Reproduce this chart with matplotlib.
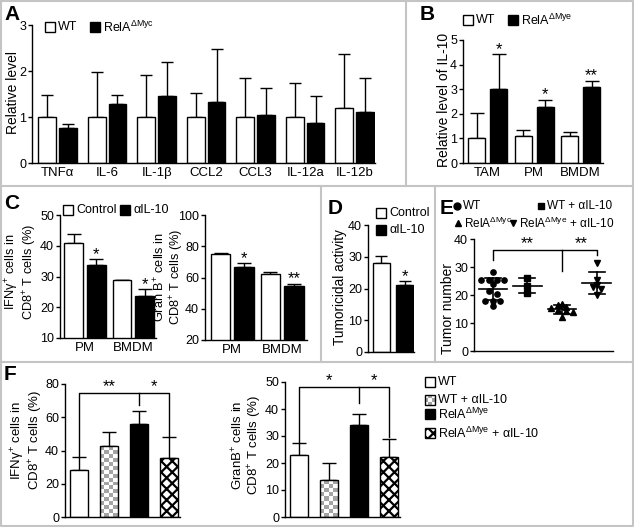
import numpy as np
import matplotlib
matplotlib.use('Agg')
import matplotlib.pyplot as plt
from matplotlib.lines import Line2D
from matplotlib.patches import Rectangle
from matplotlib.colors import ListedColormap

plt.rcParams.update({
    'font.family': 'Liberation Sans',
    'font.size': 9,
    'mathtext.fontset': 'custom',
    'mathtext.rm': 'Liberation Sans',
    'mathtext.it': 'Liberation Sans:italic',
    'mathtext.bf': 'Liberation Sans:bold',
    'hatch.linewidth': 1.6,
    'axes.linewidth': 1.0,
})

# ---- data ----
A_genes = ['TNFα', 'IL-6', 'IL-1β', 'CCL2', 'CCL3', 'IL-12a', 'IL-12b']
A_wt = [1.0, 1.0, 1.0, 1.0, 1.0, 1.0, 1.2]
A_wt_err = [0.47, 0.97, 0.92, 0.52, 0.84, 0.75, 1.17]
A_ko = [0.77, 1.29, 1.45, 1.32, 1.04, 0.88, 1.11]
A_ko_err = [0.08, 0.18, 0.74, 1.16, 0.60, 0.57, 0.74]

B_cells = ['TAM', 'PM', 'BMDM']
B_wt = [1.01, 1.08, 1.10]
B_wt_err = [1.04, 0.27, 0.14]
B_ko = [3.0, 2.27, 3.08]
B_ko_err = [1.43, 0.30, 0.26]
B_stars = ['*', '*', '**']

C_cells = ['PM', 'BMDM']
C_ifn_ctrl = [40.8, 28.7]
C_ifn_ctrl_err = [3.0, 0.2]
C_ifn_anti = [33.7, 23.7]
C_ifn_anti_err = [1.9, 2.2]
C_ifn_stars = ['*', '*']
C_gran_ctrl = [74.8, 62.0]
C_gran_ctrl_err = [0.8, 1.4]
C_gran_anti = [66.5, 54.5]
C_gran_anti_err = [2.8, 1.6]
C_gran_stars = ['*', '**']

D_ctrl, D_ctrl_err = 27.9, 2.3
D_anti, D_anti_err = 21.0, 1.4

E_wt = [28.2, 25.5, 25.5, 25.3, 25.3, 23.8, 21.5, 20.3, 18.0, 18.0, 18.0, 15.9]
E_wt_anti = [26.0, 23.3, 20.8]
E_ko = [16.9, 16.4, 15.6, 15.2, 14.6, 14.4, 13.8, 12.0]
E_ko_anti = [31.4, 25.5, 23.4, 23.0, 22.2, 20.0]

F_groups = ['WT', 'WT + αIL-10', 'RelA$^{\\mathrm{ΔMye}}$', 'RelA$^{\\mathrm{ΔMye}}$ + αIL-10']
F_ifn = [28.2, 42.7, 55.7, 35.4]
F_ifn_err = [7.6, 8.4, 7.9, 12.7]
F_gran = [22.9, 13.7, 34.2, 22.2]
F_gran_err = [4.5, 6.4, 4.1, 6.8]

W, H = 634, 527
fig = plt.figure(figsize=(W / 100, H / 100), dpi=100)
fig.patch.set_facecolor('white')


def fx(x):
    return x / W


def fy(y):
    return 1 - y / H


def new_ax(x0, ytop, x1, ybot, xlim, ylim, yticks):
    ax = fig.add_axes([fx(x0), fy(ybot), (x1 - x0) / W, (ybot - ytop) / H])
    ax.spines['top'].set_visible(False)
    ax.spines['right'].set_visible(False)
    ax.set_xlim(*xlim)
    ax.set_ylim(*ylim)
    ax.set_yticks(yticks)
    ax.tick_params(axis='y', direction='out', length=3, width=1, pad=1.2, labelsize=9)
    ax.tick_params(axis='x', length=0, labelsize=9.5, pad=3)
    ax.set_xticks([])
    ax.patch.set_alpha(0)
    return ax


def bars(ax, xs, vals, errs, width, fc, cap, hatch=None):
    b = ax.bar(xs, vals, width, color=fc, edgecolor='black', linewidth=1,
               hatch=hatch, zorder=2)
    ax.errorbar(xs, vals, yerr=[np.zeros(len(vals)), errs], fmt='none',
                ecolor='black', elinewidth=1, capsize=cap, capthick=1, zorder=1)
    return b


def stars(ax, xs, tops, labels, fs=12):
    for x, t, s in zip(xs, tops, labels):
        ax.annotate(s, (x, t), xytext=(0, -2), textcoords='offset points',
                    ha='center', va='bottom', fontsize=fs)


def checker(ax, bar, cell=4.0):
    x0, w, h = bar.get_x(), bar.get_width(), bar.get_height()
    p0 = ax.transData.transform((x0, 0))
    p1 = ax.transData.transform((x0 + w, h))
    nc = max(1, int(round((p1[0] - p0[0]) / cell)))
    nr = max(1, int(round((p1[1] - p0[1]) / cell)))
    img = np.indices((nr, nc)).sum(axis=0) % 2
    xl, yl = ax.get_xlim(), ax.get_ylim()
    im = ax.imshow(img, extent=(x0, x0 + w, 0, h), origin='lower',
                   cmap=ListedColormap(['white', '#a4a4a4']), aspect='auto',
                   interpolation='nearest', zorder=2.5)
    im.set_clip_path(bar)
    bar.set_facecolor('none')
    bar.set_zorder(3)
    ax.set_xlim(xl)
    ax.set_ylim(yl)


def ylab(x, y, text, fs=9.5):
    fig.text(fx(x), fy(y), text, rotation=90, ha='center', va='center',
             fontsize=fs, linespacing=1.0)


def key(x, y, label, fc='white', hatch=None, size=10, fs=9, gap=3):
    fig.add_artist(Rectangle((fx(x), fy(y + size / 2)), size / W, size / H,
                             transform=fig.transFigure, facecolor=fc,
                             edgecolor='black', lw=1, hatch=hatch))
    fig.text(fx(x + size + gap), fy(y), label, ha='left', va='center', fontsize=fs)


def mkey(x, y, label, marker, fs=8.5):
    fig.add_artist(Line2D([fx(x)], [fy(y)], marker=marker, color='black', ms=5,
                          linestyle='none', transform=fig.transFigure))
    fig.text(fx(x + 6), fy(y), label, ha='left', va='center', fontsize=fs)


def letter(x, y, s):
    fig.text(fx(x), fy(y), s, ha='left', va='top', fontsize=15, fontweight='bold')


def line_px(xs, ys):
    fig.add_artist(Line2D([fx(v) for v in xs], [fy(v) for v in ys],
                          color='#c4c4c4', lw=1.5, transform=fig.transFigure))


def swarm(vals, step=1.6, spread=0.22):
    vals = np.asarray(vals)
    offs = np.zeros(len(vals))
    bins = np.round(vals / step)
    for b in np.unique(bins):
        idx = np.where(bins == b)[0]
        offs[idx] = (np.arange(len(idx)) - (len(idx) - 1) / 2) * spread
    return offs


# ---- panel borders ----
line_px([1, 633, 633, 1, 1], [1, 1, 526, 526, 1])
line_px([1, 633], [186, 186])
line_px([1, 633], [362, 362])
line_px([406, 406], [1, 186])
line_px([321, 321], [186, 362])
line_px([435, 435], [186, 362])

# ---- A ----
xa = np.arange(len(A_genes))
ax = new_ax(32, 25, 375, 163, (-0.515, 6.41), (0, 3), [0, 1, 2, 3])
bars(ax, xa - 0.21, A_wt, A_wt_err, 0.36, 'white', 4)
bars(ax, xa + 0.21, A_ko, A_ko_err, 0.36, 'black', 4)
ax.set_xticks(xa)
ax.set_xticklabels(A_genes)
ylab(13, 92, 'Relative level', fs=10)
key(45, 27, 'WT')
key(90, 27, 'RelA$^{\\mathrm{ΔMyc}}$', fc='black')
letter(4, 5, 'A')

# ---- B ----
xb = np.arange(len(B_cells))
ax = new_ax(463, 40, 603, 163, (-0.527, 2.48), (0, 5), [0, 1, 2, 3, 4, 5])
bars(ax, xb - 0.237, B_wt, B_wt_err, 0.366, 'white', 5)
bars(ax, xb + 0.237, B_ko, B_ko_err, 0.366, 'black', 5)
stars(ax, xb + 0.237, np.add(B_ko, B_ko_err), B_stars)
ax.set_xticks(xb)
ax.set_xticklabels(B_cells)
ylab(444, 100, 'Relative level of IL-10', fs=10)
key(463, 20, 'WT')
key(508, 20, 'RelA$^{\\mathrm{ΔMye}}$', fc='black')
letter(420, 5, 'B')

# ---- C ----
xc = np.arange(len(C_cells))
ax = new_ax(60, 215, 156, 338, (-0.52, 1.47), (10, 50), [10, 20, 30, 40, 50])
bars(ax, xc - 0.235, C_ifn_ctrl, C_ifn_ctrl_err, 0.39, 'white', 5)
bars(ax, xc + 0.235, C_ifn_anti, C_ifn_anti_err, 0.39, 'black', 5)
stars(ax, xc + 0.235, np.add(C_ifn_anti, C_ifn_anti_err), C_ifn_stars)
ax.set_xticks(xc)
ax.set_xticklabels(C_cells)
ylab(21, 272, 'IFNγ$^{+}$ cells in\nCD8$^{+}$ T cells (%)', fs=9.2)

ax = new_ax(205, 215, 307, 340, (-0.55, 1.5), (20, 100), [20, 40, 60, 80, 100])
bars(ax, xc - 0.235, C_gran_ctrl, C_gran_ctrl_err, 0.39, 'white', 5)
bars(ax, xc + 0.235, C_gran_anti, C_gran_anti_err, 0.39, 'black', 5)
stars(ax, xc + 0.235, np.add(C_gran_anti, C_gran_anti_err), C_gran_stars)
ax.set_xticks(xc)
ax.set_xticklabels(C_cells)
ylab(169, 277, 'Gran B$^{+}$ cells in\nCD8$^{+}$ T cells (%)', fs=9.2)
key(63, 210, 'Control')
key(120, 210, 'αIL-10', fc='black')
letter(4, 194, 'C')

# ---- D ----
ax = new_ax(368, 225, 414, 352, (-0.553, 1.40), (0, 40), [0, 10, 20, 30, 40])
bars(ax, [0], [D_ctrl], [D_ctrl_err], 0.72, 'white', 4.5)
bars(ax, [1], [D_anti], [D_anti_err], 0.72, 'black', 4.5)
stars(ax, [1], [D_anti + D_anti_err], ['*'])
ylab(340, 287, 'Tumoricidal activity', fs=9.8)
key(376, 213, 'Control')
key(376, 230, 'αIL-10', fc='black')
letter(328, 199, 'D')

# ---- E ----
ax = new_ax(474, 239, 613, 351, (-0.54, 3.47), (0, 40), [0, 10, 20, 30, 40])
for i, (pts, mk) in enumerate(zip([E_wt, E_wt_anti, E_ko, E_ko_anti], ['o', 's', '^', 'v'])):
    pts = np.asarray(pts)
    ax.plot(i + swarm(pts), pts, marker=mk, ms=3.8, color='black', linestyle='none', zorder=3)
    m, sd = pts.mean(), pts.std(ddof=1)
    ax.plot([i - 0.41, i + 0.41], [m, m], color='black', lw=1.2)
    ax.plot([i, i], [m - sd, m + sd], color='black', lw=1.2)
    ax.plot([i - 0.23, i + 0.23], [m + sd, m + sd], color='black', lw=1.2)
    ax.plot([i - 0.23, i + 0.23], [m - sd, m - sd], color='black', lw=1.2)
ax.plot([0, 0, 3, 3], [32.6, 35.9, 35.9, 34.2], color='black', lw=1)
ax.plot([2, 2], [35.9, 28.7], color='black', lw=1)
ax.text(1.0, 35.6, '**', ha='center', va='bottom', fontsize=12)
ax.text(2.55, 35.6, '**', ha='center', va='bottom', fontsize=12)
ylab(448, 309, 'Tumor number', fs=10)
mkey(457, 206, 'WT', 'o')
mkey(541, 206, 'WT + αIL-10', 's')
mkey(458, 223, 'RelA$^{\\mathrm{ΔMyc}}$', '^')
mkey(513, 223, 'RelA$^{\\mathrm{ΔMye}}$ + αIL-10', 'v')
letter(440, 199, 'E')

# ---- F ----
xf = np.arange(len(F_groups))
fills = ['white', 'white', 'black', 'white']
hatches = [None, None, None, 'xxx']


def f_panel(x0, x1, ytop, ymax, yticks, vals, errs, top, mid, label, lx, ly):
    ax = new_ax(x0, ytop, x1, 517, (-0.47, 3.38), (0, ymax), yticks)
    bs = []
    for i in xf:
        b = bars(ax, [i], [vals[i]], [errs[i]], 0.6, fills[i], 5, hatches[i])
        bs.append(b[0])
    checker(ax, bs[1])
    tops = np.add(vals, errs)
    ax.plot([0, 0, 3, 3], [tops[0] + 0.5, top, top, tops[3] + 0.5],
            color='black', lw=1, clip_on=False)
    ax.plot([2, 2], [top, mid], color='black', lw=1, clip_on=False)
    ylab(lx, ly, label)
    return ax


ax = f_panel(65, 180, 384, 80, [0, 20, 40, 60, 80], F_ifn, F_ifn_err, 74.5, 67.6,
             'IFNγ$^{+}$ cells in\nCD8$^{+}$ T cells (%)', 27, 440)
ax.text(1.0, 74.0, '**', ha='center', va='bottom', fontsize=12, clip_on=False)
ax.text(2.5, 74.0, '*', ha='center', va='bottom', fontsize=12, clip_on=False)

ax = f_panel(285, 400, 382, 50, [0, 10, 20, 30, 40, 50], F_gran, F_gran_err, 48.0, 42.2,
             'GranB$^{+}$ cells in\nCD8$^{+}$ T cells (%)', 247, 445)
ax.text(1.0, 47.7, '*', ha='center', va='bottom', fontsize=12, clip_on=False)
ax.text(2.5, 47.7, '*', ha='center', va='bottom', fontsize=12, clip_on=False)

key(425, 382, F_groups[0])
# checkered key
for r in range(3):
    for c in range(3):
        fc = '#a4a4a4' if (r + c) % 2 else 'white'
        fig.add_artist(Rectangle((fx(425 + c * 10 / 3), fy(395 + (r + 1) * 10 / 3)),
                                 10 / 3 / W, 10 / 3 / H, transform=fig.transFigure,
                                 facecolor=fc, edgecolor='none'))
fig.add_artist(Rectangle((fx(425), fy(405)), 10 / W, 10 / H, transform=fig.transFigure,
                         facecolor='none', edgecolor='black', lw=1))
fig.text(fx(438), fy(400), F_groups[1], ha='left', va='center', fontsize=9)
key(425, 414, F_groups[2], fc='black')
key(425, 433, F_groups[3], hatch='xxx')
letter(4, 365, 'F')

fig.savefig('out.png', dpi=100)
